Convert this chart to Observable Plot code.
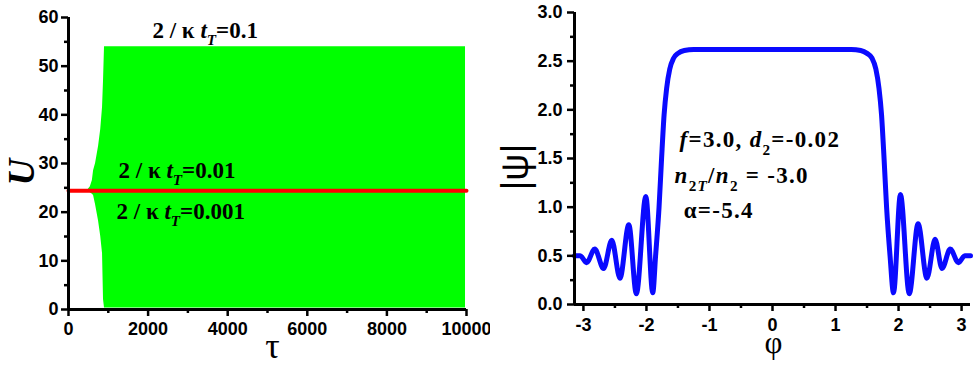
<!DOCTYPE html>
<html><head><meta charset="utf-8">
<script src="https://cdn.jsdelivr.net/npm/d3@7"></script>
<script src="https://cdn.jsdelivr.net/npm/@observablehq/plot@0.6"></script>
<style>
body{margin:0;background:#fff;}
#wrap{display:flex;width:974px;height:366px;overflow:hidden;}
</style></head><body><div id="wrap"></div>
<script>
// ---------- Left panel: U(τ) ----------
const envTau = [0, 480, 550, 600, 630, 680, 755, 810, 855, 880, 905, 9975];
const envHi  = [24.5, 24.5, 25.2, 26.5, 28.5, 30, 33.5, 37, 41.5, 47, 54, 54];
const envLo  = [24.3, 24.3, 24.0, 23.7, 23.4, 21.5, 18.2, 15, 11.5, 2, 0.3, 0.3];
const redTau = [0, 10000];
const redU   = [24.4, 24.4];
const leftXTicks = [0, 2000, 4000, 6000, 8000, 10000];
const leftXMinor = [1000, 3000, 5000, 7000, 9000];
const leftYTicks = [0, 10, 20, 30, 40, 50, 60];
const leftYMinor = [5, 15, 25, 35, 45, 55];
const leftNotes   = ["2 / κ *t*_{*T*}=0.1", "2 / κ *t*_{*T*}=0.01", "2 / κ *t*_{*T*}=0.001"];
const leftNoteTau = [2110, 1256, 1206];
const leftNoteU   = [57.4, 28.6, 20.2];

// ---------- Right panel: |ψ|(φ) ----------
const phi = [-3.1416, -3.05, -2.95, -2.82, -2.68, -2.55, -2.42, -2.28, -2.16, -2.01, -1.90,
  -1.855, -1.80, -1.76, -1.72, -1.68, -1.63, -1.57, -1.50, -1.40, -1.25, 0,
  1.25, 1.40, 1.50, 1.58, 1.64, 1.69, 1.73, 1.77, 1.81, 1.865, 1.92,
  2.03, 2.17, 2.31, 2.45, 2.58, 2.69, 2.82, 2.95, 3.05, 3.1416];
const psi = [0.50, 0.50, 0.43, 0.57, 0.37, 0.66, 0.27, 0.82, 0.11, 1.11, 0.12,
  0.5, 1.0, 1.5, 1.95, 2.22, 2.42, 2.53, 2.58, 2.61, 2.62, 2.62,
  2.62, 2.61, 2.58, 2.53, 2.42, 2.22, 1.95, 1.5, 1.0, 0.5, 0.12,
  1.13, 0.11, 0.83, 0.27, 0.67, 0.37, 0.57, 0.43, 0.50, 0.50];
const rightXTicks = [-3, -2, -1, 0, 1, 2, 3];
const rightXMinor = [-2.5, -1.5, -0.5, 0.5, 1.5, 2.5];
const rightYTicks = [0, 0.5, 1.0, 1.5, 2.0, 2.5, 3.0];
const rightYMinor = [0.25, 0.75, 1.25, 1.75, 2.25, 2.75];
const rightNotes   = ["*f*=3.0, *d*_{2}=-0.02", "*n*_{2*T*}/*n*_{2} = -3.0", "α=-5.4"];
const rightNotePhi = [-1.475, -1.554, -1.41];
const rightNotePsi = [1.689, 1.319, 0.960];

const SANS = "'Liberation Sans', Arial, sans-serif";
const SERIF = "'Liberation Serif', 'Times New Roman', serif";

function axes({xt, xm, yt, ym, xfmt, yfmt, xpad, ypad, x0, y0}) {
  const common = {label: null, strokeWidth: 2.5, fontSize: 18, fontWeight: "bold", fontFamily: SANS, fill: "black"};
  return [
    Plot.axisX({...common, ticks: xt, tickSize: 7, tickPadding: xpad, tickFormat: xfmt}),
    Plot.axisX({...common, ticks: xm, tickSize: 4, tickFormat: () => ""}),
    Plot.axisY({...common, ticks: yt, tickSize: 7, tickPadding: ypad, tickFormat: yfmt}),
    Plot.axisY({...common, ticks: ym, tickSize: 4, tickFormat: () => ""}),
    Plot.ruleX([x0], {strokeWidth: 3, stroke: "black"}),
    Plot.ruleY([y0], {strokeWidth: 3, stroke: "black"})
  ];
}

const envelope = envTau.map((t, i) => ({tau: t, hi: envHi[i], lo: envLo[i]}));
const redLine = redTau.map((t, i) => ({tau: t, u: redU[i]}));
const leftNoteData = leftNotes.map((s, i) => ({s, tau: leftNoteTau[i], u: leftNoteU[i]}));

const left = Plot.plot({
  width: 490, height: 366,
  marginLeft: 68, marginRight: 24, marginTop: 17, marginBottom: 57,
  style: {fontFamily: SANS, fontSize: "18px", fontWeight: "bold", background: "white", overflow: "visible"},
  x: {domain: [0, 10000]},
  y: {domain: [0, 60]},
  marks: [
    Plot.areaY(envelope, {x: "tau", y1: "lo", y2: "hi", fill: "#00ff00"}),
    Plot.line(redLine, {x: "tau", y: "u", stroke: "#ff0000", strokeWidth: 4}),
    ...axes({xt: leftXTicks, xm: leftXMinor, yt: leftYTicks, ym: leftYMinor,
      xfmt: d => String(d), yfmt: d => String(d), xpad: 6, ypad: 3, x0: 0, y0: 0}),
    Plot.text(leftNoteData, {x: "tau", y: "u", text: "s", textAnchor: "start",
      fontSize: 23, fontWeight: "bold", fontFamily: SERIF, fill: "black"}),
    Plot.text(["U"], {text: d => d, frameAnchor: "left", dx: -46, dy: 22, rotate: -90,
      fontSize: 37, fontWeight: "bold", fontStyle: "italic", fontFamily: SERIF, fill: "black"}),
    Plot.text(["τ"], {text: d => d, frameAnchor: "bottom", dx: 5, dy: 48,
      fontSize: 36, fontWeight: "normal", fontFamily: SERIF, fill: "black"})
  ]
});

const curve = phi.map((p, i) => ({phi: p, psi: psi[i]}));
const rightNoteData = rightNotes.map((s, i) => ({s, phi: rightNotePhi[i], psi: rightNotePsi[i]}));

const right = Plot.plot({
  width: 484, height: 366,
  marginLeft: 84, marginRight: 4, marginTop: 12, marginBottom: 62,
  style: {fontFamily: SANS, fontSize: "18px", fontWeight: "bold", background: "white", overflow: "visible"},
  x: {domain: [-Math.PI, Math.PI]},
  y: {domain: [0, 3]},
  marks: [
    Plot.line(curve, {x: "phi", y: "psi", stroke: "#0a0aff", strokeWidth: 5, curve: "monotone-x"}),
    ...axes({xt: rightXTicks, xm: rightXMinor, yt: rightYTicks, ym: rightYMinor,
      xfmt: d => String(d), yfmt: d => d.toFixed(1), xpad: 7, ypad: 5, x0: -Math.PI, y0: 0}),
    Plot.text(rightNoteData, {x: "phi", y: "psi", text: "s", textAnchor: "start",
      fontSize: 23, fontWeight: "bold", fontFamily: SERIF, fill: "black"}),
    Plot.text(["|ψ|"], {text: d => d, frameAnchor: "left", dx: -59, dy: 32, rotate: -90,
      fontSize: 38, fontWeight: "normal", fontFamily: SANS, fill: "black"}),
    Plot.text(["φ"], {text: d => d, frameAnchor: "bottom", dx: 1, dy: 48,
      fontSize: 31, fontWeight: "normal", fontFamily: SERIF, fill: "black"})
  ]
});

const wrap = document.getElementById("wrap");
wrap.appendChild(left);
wrap.appendChild(right);

// Rich text: *italic* and _{subscript}
function richify(el) {
  const src = el.textContent;
  if (!/[*_]/.test(src)) return;
  const fs = parseFloat(getComputedStyle(el).fontSize);
  const segs = [];
  const re = /_\{([^}]*)\}|([^_]+)/g;
  let m;
  while ((m = re.exec(src))) {
    const sub = m[1] !== undefined;
    const body = sub ? m[1] : m[2];
    body.split(/(\*[^*]*\*)/).forEach(p => {
      if (!p) return;
      const it = p.length > 1 && p.startsWith("*") && p.endsWith("*");
      segs.push({t: it ? p.slice(1, -1) : p, it, sub});
    });
  }
  el.textContent = "";
  let shift = 0;
  const ns = "http://www.w3.org/2000/svg";
  for (const s of segs) {
    const ts = document.createElementNS(ns, "tspan");
    ts.textContent = s.t;
    const target = s.sub ? fs * 0.32 : 0;
    if (target !== shift) { ts.setAttribute("dy", target - shift); shift = target; }
    if (s.sub) ts.setAttribute("font-size", fs * 0.66);
    if (s.it) ts.setAttribute("font-style", "italic");
    el.appendChild(ts);
  }
}
document.querySelectorAll("svg text").forEach(richify);
// wider tracking for the right-panel parameter notes
right.querySelectorAll('g[font-size="23"] text').forEach(t => t.setAttribute("letter-spacing", "1.3"));
</script>
</body></html>
